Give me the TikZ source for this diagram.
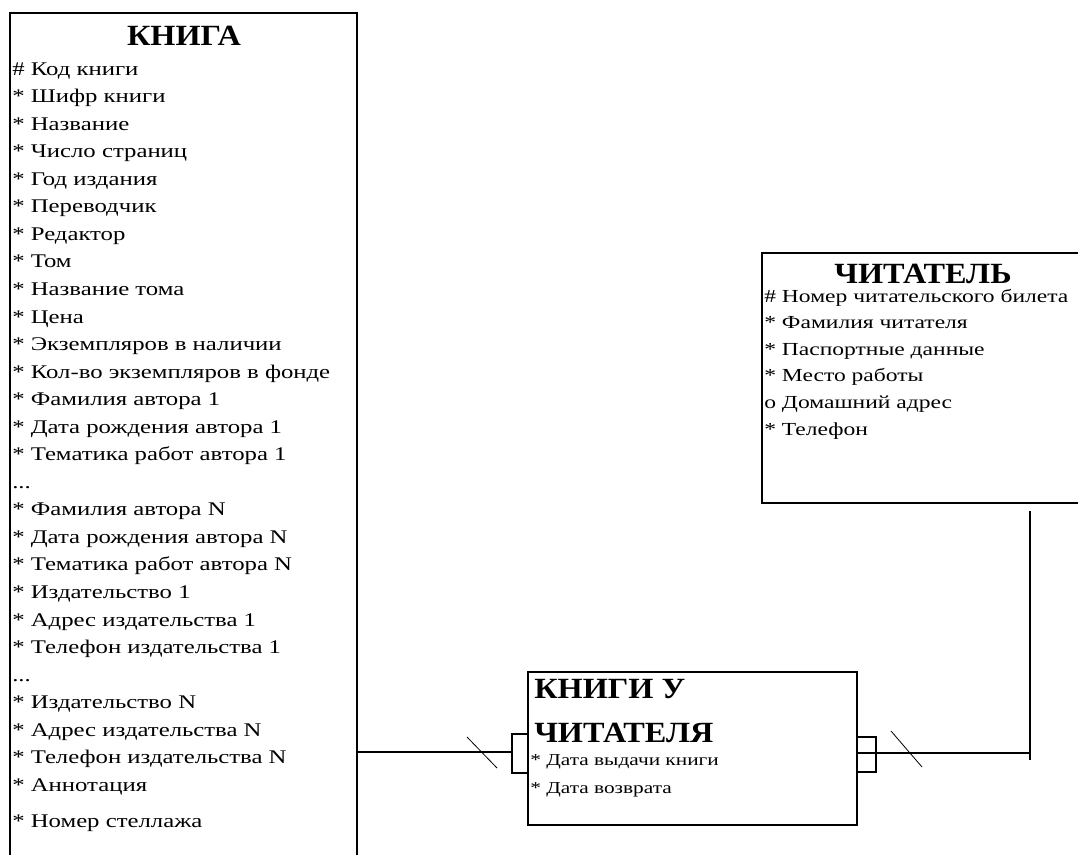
\documentclass[tikz,border=0pt]{standalone}
\usepackage{fontspec}
\setmainfont{Liberation Serif}
\newfontfamily\attrfont[FakeStretch=1.28]{Liberation Serif}
\newfontfamily\headfont[FakeStretch=1.1]{Liberation Serif}

\tikzset{
	entity/.style={draw, line width=0.8pt, anchor=north west, inner sep=0pt, outer sep=0pt},
	attr/.style={anchor=base west, inner sep=0pt, font=\attrfont\fontsize{14.5}{16}\selectfont},
	reader attr/.style={anchor=base west, inner sep=0pt, font=\attrfont\fontsize{13.8}{16}\selectfont},
	small attr/.style={anchor=base west, inner sep=0pt, font=\attrfont\fontsize{12.5}{14}\selectfont},
	title/.style={anchor=base, inner sep=0pt, font=\headfont\bfseries\fontsize{22}{24}\selectfont},
	link/.style={line width=0.8pt},
	tick/.style={line width=0.6pt}
}

\begin{document}
\begin{tikzpicture}[x=0.75pt, y=-0.75pt]
			\clip (0,0) rectangle (1078,854);
			% entities
			\node[entity, minimum width=260.25pt, minimum height=660pt] (kniga) at (10,13) {};
			\node[entity, minimum width=247.5pt, minimum height=187.5pt] (reader) at (762,253) {};
			\node[entity, minimum width=246.75pt, minimum height=114.75pt] (loan) at (528,672) {};
			% КНИГА
			\node[title] (knigaT) at (184,45) {КНИГА};
			\node[attr] (k0) at (12,75) {\# Код книги};
			\node[attr] (k1) at (12,102.6) {* Шифр книги};
			\node[attr] (k2) at (12,130.1) {* Название};
			\node[attr] (k3) at (12,157.7) {* Число страниц};
			\node[attr] (k4) at (12,185.2) {* Год издания};
			\node[attr] (k5) at (12,212.8) {* Переводчик};
			\node[attr] (k6) at (12,240.3) {* Редактор};
			\node[attr] (k7) at (12,267.9) {* Том};
			\node[attr] (k8) at (12,295.4) {* Название тома};
			\node[attr] (k9) at (12,323) {* Цена};
			\node[attr] (k10) at (12,350.5) {* Экземпляров в наличии};
			\node[attr] (k11) at (12,378) {* Кол-во экземпляров в фонде};
			\node[attr] (k12) at (12,405.6) {* Фамилия автора 1};
			\node[attr] (k13) at (12,433.2) {* Дата рождения автора 1};
			\node[attr] (k14) at (12,460.7) {* Тематика работ автора 1};
			\node[attr] (k15) at (12,488.3) {...};
			\node[attr] (k16) at (12,515.8) {* Фамилия автора N};
			\node[attr] (k17) at (12,543.4) {* Дата рождения автора N};
			\node[attr] (k18) at (12,570.9) {* Тематика работ автора N};
			\node[attr] (k19) at (12,598.5) {* Издательство 1};
			\node[attr] (k20) at (12,626) {* Адрес издательства 1};
			\node[attr] (k21) at (12,653.6) {* Телефон издательства 1};
			\node[attr] (k22) at (12,681.1) {...};
			\node[attr] (k23) at (12,708.7) {* Издательство N};
			\node[attr] (k24) at (12,736.2) {* Адрес издательства N};
			\node[attr] (k25) at (12,763.8) {* Телефон издательства N};
			\node[attr] (k26) at (12,791.3) {* Аннотация};
			\node[attr] (k27) at (12,827) {* Номер стеллажа};
			% ЧИТАТЕЛЬ
			\node[title] (readerT) at (923,283) {ЧИТАТЕЛЬ};
			\node[reader attr] (r0) at (764,302) {\# Номер читательского билета};
			\node[reader attr] (r1) at (764,328.6) {* Фамилия читателя};
			\node[reader attr] (r2) at (764,355.2) {* Паспортные данные};
			\node[reader attr] (r3) at (764,381.8) {* Место работы};
			\node[reader attr] (r4) at (764,408.4) {о Домашний адрес};
			\node[reader attr] (r5) at (764,435) {* Телефон};
			% КНИГИ У ЧИТАТЕЛЯ
			\node[title, anchor=base west] (loanT1) at (534,698) {КНИГИ У};
			\node[title, anchor=base west] (loanT2) at (534,742) {ЧИТАТЕЛЯ};
			\node[small attr] (l0) at (530,765) {* Дата выдачи книги};
			\node[small attr] (l1) at (530,793) {* Дата возврата};
			% relationships
			\coordinate (lend) at (512,752);
			\coordinate (rend) at (1030,753);
			\draw[link] (kniga.east |- lend) -- (lend);
			\draw[link] (loan.west |- 0,734) -- (512,734) -- (512,773) -- (loan.west |- 0,773);
			\draw[tick] (467,737) -- (497,768);
			\draw[link] (loan.east |- rend) -- (rend);
			\draw[link] (loan.east |- 0,737) -- (876,737) -- (876,772) -- (loan.east |- 0,772);
			\draw[tick] (891,731) -- (922,767);
			\draw[link] ([yshift=-6pt]reader.south -| rend) -- ([yshift=-5pt]rend);
		\end{tikzpicture}
\end{document}
